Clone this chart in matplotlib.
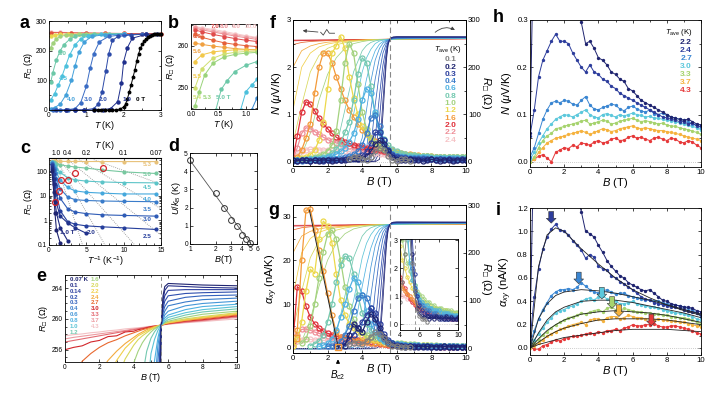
import matplotlib
matplotlib.use("Agg")
import matplotlib.pyplot as plt
import numpy as np

plt.rcParams['font.family'] = ['Liberation Sans', 'DejaVu Sans']
plt.rcParams['mathtext.fontset'] = 'custom'
plt.rcParams['mathtext.rm'] = 'Liberation Sans'
plt.rcParams['mathtext.it'] = 'Liberation Sans:italic'
plt.rcParams['mathtext.bf'] = 'Liberation Sans:bold'
plt.rcParams['mathtext.fallback'] = 'stixsans'

nan = np.nan

# ---------- panel a: R(T) at fixed fields ----------
A0_T = [1.2, 1.3, 1.4, 1.5, 1.6, 1.7, 1.8, 1.9, 2.0, 2.05, 2.1, 2.15, 2.2, 2.25, 2.3, 2.35,
        2.4, 2.45, 2.5, 2.55, 2.6, 2.65, 2.7, 2.75, 2.8, 2.85, 2.9, 2.95, 3.0]
A0_R = [0, 0, 0, 0, 0, 0, 1, 3, 10, 20, 38, 60, 85, 110, 135, 165,
        190, 208, 222, 232, 240, 246, 250, 253, 255, 256, 256, 256, 256]
A_LABELS = ['10.0', '6.0', '5.5', '5.3', '5.0', '4.5', '4.0', '3.0', '2.0', '1.0']
A_COLORS = ['#f4bcc0', '#e2503e', '#e9d64e', '#a2d27e', '#6cc8a8', '#4cc0dc', '#43a0da',
            '#3a6cc4', '#2c4aa8', '#1f2f8c']
A_T = [
    [0.05, 0.3, 0.6, 1.0, 1.5, 2.0, 2.5, 3.0],
    [0.05, 0.3, 0.6, 1.0, 1.5, 2.0, 2.5, 3.0],
    [0.05, 0.15, 0.3, 0.5, 0.8, 1.2, 2.0],
    [0.05, 0.1, 0.2, 0.3, 0.45, 0.6, 0.8, 1.0, 1.5, 2.0],
    [0.05, 0.1, 0.2, 0.3, 0.4, 0.55, 0.7, 0.9, 1.2, 1.6, 2.0],
    [0.05, 0.15, 0.25, 0.35, 0.45, 0.55, 0.7, 0.85, 1.05, 1.4, 2.0],
    [0.05, 0.15, 0.3, 0.45, 0.6, 0.7, 0.8, 0.95, 1.15, 1.5, 2.0],
    [0.1, 0.3, 0.5, 0.7, 0.85, 1.0, 1.1, 1.2, 1.35, 1.6, 2.0, 2.5],
    [0.2, 0.45, 0.7, 0.95, 1.2, 1.32, 1.42, 1.52, 1.6, 1.7, 1.85, 2.2, 2.6],
    [0.45, 0.7, 0.95, 1.2, 1.45, 1.65, 1.84, 1.94, 2.0, 2.1, 2.23, 2.6, 2.9],
]
A_R = [
    [263, 262, 261, 260, 259, 258, 257.5, 257],
    [261, 260.5, 260, 259.5, 258.5, 258, 257.5, 257],
    [250, 253, 255, 256, 256, 257, 257],
    [210, 225, 240, 248, 252, 254, 255, 256, 256, 257],
    [95, 125, 170, 200, 220, 238, 248, 253, 256, 256, 257],
    [35, 55, 85, 115, 150, 185, 220, 240, 250, 255, 256],
    [5, 8, 20, 50, 100, 150, 195, 230, 248, 254, 256],
    [0, 0, 1, 5, 25, 80, 140, 190, 230, 248, 254, 256],
    [0, 0, 0, 0, 5, 20, 60, 130, 190, 235, 248, 253, 256],
    [0, 0, 0, 0, 1, 5, 28, 90, 163, 210, 242, 255, 256],
]
A_TXT = [('5.0', 0.36, 191, '#6cc8a8'), ('4.5', 0.38, 107, '#4cc0dc'), ('4.0', 0.6, 36, '#43a0da'),
         ('3.0', 1.05, 36, '#3a6cc4'), ('2.0', 1.45, 36, '#2c4aa8'), ('1.0', 2.08, 36, '#1f2f8c'),
         ('0 T', 2.45, 36, 'k')]

# ---------- panel b: zoom of R(T) near 260 Ohm ----------
B_COLORS = ['#f6c9cb', '#f2b0b4', '#ec8f95', '#e04b4b', '#e5603a', '#f0a040', '#f2c84a',
            '#cfe070', '#9ad37a', '#6cc8a8', '#4cc0dc', '#3a8ad0']
B_T = [
    [0.07, 0.2, 0.4, 0.6, 0.8, 1.0, 1.2],
    [0.07, 0.2, 0.4, 0.6, 0.8, 1.0, 1.2],
    [0.07, 0.2, 0.4, 0.6, 0.8, 1.0, 1.2],
    [0.07, 0.2, 0.4, 0.6, 0.8, 1.0, 1.2],
    [0.07, 0.2, 0.4, 0.6, 0.8, 1.0, 1.2],
    [0.07, 0.2, 0.4, 0.6, 0.8, 1.0, 1.2],
    [0.07, 0.2, 0.4, 0.6, 0.8, 1.0, 1.2],
    [0.07, 0.2, 0.4, 0.6, 0.8, 1.0, 1.2],
    [0.07, 0.15, 0.25, 0.4, 0.6, 0.8, 1.0, 1.2],
    [0.45, 0.55, 0.65, 0.8, 1.0, 1.2],
    [0.9, 1.0, 1.1, 1.2],
    [1.1, 1.2],
]
B_R = [
    [264.6, 264.3, 263.9, 263.4, 262.9, 262.4, 262.0],
    [264.4, 264.1, 263.6, 263.1, 262.6, 262.2, 261.8],
    [264.2, 263.8, 263.3, 262.8, 262.3, 261.9, 261.5],
    [263.8, 263.3, 262.7, 262.2, 261.7, 261.3, 261.0],
    [262.7, 262.0, 261.3, 260.7, 260.3, 260.0, 259.8],
    [260.6, 260.3, 259.9, 259.6, 259.3, 259.1, 259.0],
    [256.2, 257.8, 258.5, 258.8, 259.0, 259.0, 259.0],
    [249.8, 254.5, 257.0, 258.0, 258.4, 258.6, 258.7],
    [245.5, 249.0, 253.0, 255.8, 257.3, 257.9, 258.2, 258.4],
    [244.5, 249.5, 251.5, 253.8, 255.3, 256.2],
    [244.5, 249.0, 250.5, 251.9],
    [244.5, 247.5],
]
B_TXT = [('7.0', 0.35, 264.5, '#e04b4b'), ('8.0', 0.53, 264.5, '#ec8f95'), ('9.0', 0.74, 264.5, '#f2b0b4'),
         ('10.0', 0.98, 264.5, '#f6c9cb'), ('6.0', 0.04, 262.3, '#e5603a'), ('5.6', 0.04, 258.7, '#f0a040'),
         ('5.5', 0.04, 252.6, '#f2c84a'), ('5.4', 0.04, 247.5, '#cfe070'), ('5.3', 0.22, 247.5, '#9ad37a'),
         ('5.0 T', 0.45, 247.5, '#6cc8a8')]

# ---------- panel c: Arrhenius plot ----------
C_X = [0.4, 0.63, 0.8, 1.0, 1.5, 2.5, 3.5, 5.0, 7.1, 10.0, 14.3]
C_LABELS = ['5.3', '5.0', '4.5', '4.0', '3.5', '3.0', '2.5', '2.0', '1.5', '1.0']
C_COLORS = ['#e8c27a', '#78c8a0', '#5cc4c8', '#45a8dc', '#3a7cca', '#2f5cb6', '#263f9c',
            '#22338c', '#1f2a80', '#1f2470']
C_R = [
    [260, 258, 257, 256, 255, 254, 253, 252, 251, 250, 250],
    [250, 230, 215, 200, 185, 165, 150, 135, 115, 95, 82],
    [240, 200, 160, 130, 90, 55, 45, 40, 37, 35, 34],
    [230, 170, 120, 85, 45, 22, 16, 14, 13, 12, 12],
    [220, 140, 85, 50, 20, 9, 7, 6.5, 6.2, 6.0, 5.8],
    [200, 110, 55, 25, 8, 3, 2.2, 1.9, 1.7, 1.6, 1.5],
    [180, 80, 30, 12, 2.5, 0.9, 0.7, 0.6, 0.55, 0.5, 0.43],
    [150, 50, 15, 5, 1.5, 0.8, 0.5, 0.3],
    [120, 30, 6, 2, 0.5, 0.15],
    [100, 15, 2, 0.4, 0.12],
]
C_RED_X = [0.75, 1.3, 1.55, 2.55, 3.45, 7.25]
C_RED_R = [5.5, 16, 45, 45, 85, 135]
C_FITS = [((0.8, 300), (4.5, 0.1)), ((1.0, 300), (7.5, 0.1)), ((1.3, 300), (11.5, 0.1)),
          ((2.5, 300), (15, 0.25)), ((4.0, 300), (15, 3.0)), ((6.0, 300), (15, 30))]
C_TXT = [('5.3', 13.2, 186), ('5.0', 13.2, 73), ('4.5', 13.2, 23), ('4.0', 13.2, 7.2),
         ('3.5', 13.2, 2.9), ('3.0', 13.2, 1.08), ('2.5', 13.2, 0.23)]
C_TOP_T = ['1.0', '0.4', '0.2', '0.1', '0.07']
C_TOP_X = [1.0, 2.5, 5.0, 10.0, 14.29]

# ---------- panel d: activation energy ----------
D_B = [1, 2, 2.5, 3, 3.5, 4, 4.5, 5]
D_U = [4.6, 2.8, 2.0, 1.3, 1.0, 0.5, 0.25, 0.05]
D_LINE_B = [1, 5.1]
D_LINE_U = [4.6, 0.0]

# ---------- panel e and thin lines of f, g: R(B) at fixed T ----------
R_T = ['0.07 K', '0.1', '0.14', '0.2', '0.3', '0.4', '0.6', '0.8', '1.0', '1.2',
       '1.6', '2.0', '2.2', '2.4', '2.7', '3.0', '3.3', '3.7', '4.3']
R_COLORS = ['#1f2470', '#27308a', '#2c3f9e', '#2f4fae', '#3463bd', '#3a7cca', '#4497d8', '#4fb2e2',
            '#5cc4d6', '#74c9b0', '#a3d27e', '#d8d85a', '#f1cf4a', '#f3aa3e', '#e8682f', '#d2262b',
            '#e36a72', '#ec9aa0', '#f3c1c4']
R_B = [0, 0.5, 1, 1.5, 2, 2.5, 3, 3.5, 4, 4.25, 4.5, 4.75, 5, 5.2, 5.4, 5.5, 5.6, 5.7, 5.8, 6, 7, 8, 10]
R_VALS = [
    [0, 0, 0, 0, 0, 0, 0, 0, 0, 0, 0, 0, 5, 100, 215, 248, 259.2, 263.0, 264.2, 264.6, 264.5, 264.4, 264.3],
    [0, 0, 0, 0, 0, 0, 0, 0, 0, 0, 0, 2, 20, 130, 225, 250, 259.2, 262.5, 263.7, 264.3, 264.2, 264.1, 264.0],
    [0, 0, 0, 0, 0, 0, 0, 0, 0, 0, 0, 10, 90, 175, 235, 252, 259.2, 261.9, 263.0, 263.7, 263.8, 263.8, 263.8],
    [0, 0, 0, 0, 0, 0, 0, 0, 0, 0, 5, 50, 140, 205, 243, 254, 259.2, 261.3, 262.3, 263.0, 263.3, 263.4, 263.5],
    [0, 0, 0, 0, 0, 0, 0, 0, 0, 3, 30, 120, 190, 230, 250, 255.5, 259.2, 260.8, 261.6, 262.3, 262.8, 263.0, 263.1],
    [0, 0, 0, 0, 0, 0, 0, 0, 5, 25, 110, 175, 220, 243, 254.5, 257, 259.2, 260.3, 261.0, 261.7, 262.2, 262.5, 262.7],
    [0, 0, 0, 0, 0, 0, 0, 3, 50, 110, 170, 215, 240, 251, 256.5, 258, 259.2, 259.9, 260.5, 261.0, 261.7, 262.0, 262.3],
    [0, 0, 0, 0, 0, 0, 3, 30, 130, 175, 210, 235, 249, 254.5, 257.5, 258.5, 259.2, 259.7, 260.1, 260.5, 261.2, 261.6, 261.9],
    [0, 0, 0, 0, 0, 5, 30, 100, 190, 220, 238, 250, 255.5, 257.3, 258.5, 258.9, 259.2, 259.5, 259.8, 260.2, 260.8, 261.2, 261.6],
    [0, 0, 0, 0, 5, 30, 110, 190, 235, 246, 252.5, 255.8, 257.5, 258.3, 258.9, 259.1, 259.2, 259.4, 259.6, 259.9, 260.5, 260.9, 261.3],
    [3, 15, 60, 130, 185, 220, 240, 250, 254.3, 255.8, 256.9, 257.7, 258.3, 258.7, 259.0, 259.1, 259.2, 259.35, 259.5, 259.7, 260.2, 260.6, 261.0],
    [40, 120, 190, 225, 240, 247.5, 252, 254.8, 256.6, 257.3, 257.8, 258.2, 258.6, 258.8, 259.05, 259.15, 259.2, 259.3, 259.4, 259.6, 260.0, 260.3, 260.8],
    [110, 200, 230, 243, 249, 252.5, 254.6, 256.2, 257.3, 257.8, 258.1, 258.4, 258.7, 258.9, 259.1, 259.15, 259.2, 259.3, 259.4, 259.5, 259.9, 260.2, 260.7],
    [200, 235, 245, 250, 253, 254.6, 255.8, 256.8, 257.6, 258.0, 258.3, 258.6, 258.8, 259.0, 259.1, 259.15, 259.2, 259.3, 259.35, 259.5, 259.8, 260.1, 260.6],
    [248, 252.5, 254.5, 255.5, 256.3, 256.9, 257.3, 257.8, 258.2, 258.4, 258.6, 258.75, 258.9, 259.0, 259.1, 259.15, 259.2, 259.3, 259.35, 259.4, 259.8, 260.0, 260.5],
    [256.0, 256.3, 256.5, 257.0, 257.2, 257.7, 257.8, 258.3, 258.4, 258.6, 258.7, 258.85, 259.0, 259.05, 259.1, 259.15, 259.2, 259.25, 259.3, 259.4, 259.7, 259.9, 260.4],
    [257.0, 257.2, 257.4, 257.6, 257.8, 258.0, 258.2, 258.4, 258.6, 258.7, 258.8, 258.9, 259.0, 259.05, 259.1, 259.15, 259.2, 259.25, 259.3, 259.35, 259.6, 259.8, 260.3],
    [257.4, 257.6, 257.75, 257.9, 258.05, 258.2, 258.35, 258.5, 258.7, 258.75, 258.85, 258.9, 259.0, 259.05, 259.1, 259.15, 259.2, 259.22, 259.27, 259.35, 259.55, 259.75, 260.2],
    [257.8, 257.95, 258.05, 258.2, 258.3, 258.45, 258.55, 258.7, 258.8, 258.85, 258.9, 259.0, 259.05, 259.1, 259.15, 259.17, 259.2, 259.22, 259.25, 259.3, 259.5, 259.65, 260.0],
]

# ---------- panels f-i: 41 points on a 0.25 T grid ----------
B_GRID = np.linspace(0, 10, 41)

F_T = ['2.4', '2.2', '2.0', '1.6', '1.2', '1.0', '0.8', '0.6', '0.4', '0.3', '0.2', '0.1']
F_COLORS = ['#f6c3c6', '#ef8f98', '#e0303a', '#f39a3a', '#ecd84a', '#a3d27e', '#74c9b0',
            '#4fb2e2', '#3a7cca', '#2c3f9e', '#1f2470', '#808080']
N_24 = [0.05, 0.15, 0.22, 0.25, 0.26, 0.26, 0.25, 0.25, 0.24, 0.24, 0.23, 0.23, 0.22] + \
       [0.22, 0.21, 0.21, 0.2, 0.2, 0.19, 0.18, 0.17, 0.16, 0.15, 0.14, 0.13] + \
       [0.12, 0.12, 0.11, 0.11, 0.1, 0.1, 0.1, 0.09, 0.09, 0.09, 0.08, 0.08, 0.08, 0.08, 0.07, 0.07]
N_22 = [0.05, 0.3, 0.6, 0.72, 0.7, 0.64, 0.58, 0.52, 0.47, 0.43, 0.4, 0.37, 0.35] + \
       [0.33, 0.31, 0.3, 0.28, 0.27, 0.25, 0.24, 0.22, 0.2, 0.19, 0.17, 0.16] + \
       [0.15, 0.14, 0.13, 0.12, 0.11, 0.1, 0.1, 0.09, 0.09, 0.08, 0.08, 0.08, 0.07, 0.07, 0.07, 0.07]
N_20 = [0.08, 0.55, 1.05, 1.27, 1.22, 1.08, 0.93, 0.8, 0.7, 0.6, 0.52, 0.46, 0.42] + \
       [0.39, 0.36, 0.34, 0.32, 0.3, 0.28, 0.26, 0.24, 0.22, 0.2, 0.18, 0.16] + \
       [0.15, 0.14, 0.13, 0.12, 0.11, 0.1, 0.1, 0.09, 0.09, 0.08, 0.08, 0.08, 0.07, 0.07, 0.07, 0.07]
N_16 = [0.05, 0.1, 0.25, 0.5, 0.8, 1.45, 2.0, 2.3, 2.3, 2.1, 1.8, 1.55, 1.3] + \
       [1.1, 0.95, 0.8, 0.68, 0.58, 0.5, 0.43, 0.37, 0.32, 0.28, 0.24, 0.21] + \
       [0.19, 0.17, 0.16, 0.15, 0.14, 0.13, 0.12, 0.12, 0.11, 0.11, 0.1, 0.1, 0.1, 0.1, 0.09, 0.09]
N_12 = [0.04, 0.05, 0.07, 0.1, 0.15, 0.24, 0.45, 0.85, 1.55, 2.3, 2.45, 2.65, 2.4] + \
       [1.8, 1.35, 1.0, 0.75, 0.58, 0.46, 0.38, 0.32, 0.27, 0.23, 0.2, 0.18] + \
       [0.16, 0.15, 0.14, 0.13, 0.13, 0.12, 0.12, 0.11, 0.11, 0.1, 0.1, 0.1, 0.1, 0.09, 0.09, 0.09]
N_10 = [0.03, 0.04, 0.05, 0.06, 0.08, 0.1, 0.13, 0.17, 0.23, 0.35, 0.65, 1.3, 2.1] + \
       [2.5, 2.3, 1.65, 1.05, 0.7, 0.5, 0.4, 0.33, 0.28, 0.24, 0.21, 0.19] + \
       [0.17, 0.16, 0.15, 0.14, 0.13, 0.13, 0.12, 0.12, 0.11, 0.11, 0.11, 0.1, 0.1, 0.1, 0.1, 0.1]
N_08 = [0.03, 0.04, 0.04, 0.05, 0.06, 0.07, 0.08, 0.1, 0.13, 0.18, 0.26, 0.4, 0.62] + \
       [0.85, 1.3, 1.85, 2.2, 2.1, 1.6, 1.0, 0.65, 0.48, 0.35, 0.27, 0.22] + \
       [0.19, 0.17, 0.15, 0.14, 0.13, 0.12, 0.12, 0.11, 0.11, 0.1, 0.1, 0.1, 0.09, 0.09, 0.09, 0.09]
N_06 = [0.03, 0.03, 0.04, 0.04, 0.05, 0.05, 0.06, 0.07, 0.09, 0.12, 0.16, 0.22, 0.3] + \
       [0.42, 0.6, 0.9, 1.3, 1.55, 1.45, 1.05, 0.6, 0.35, 0.22, 0.16, 0.13] + \
       [0.12, 0.11, 0.1, 0.1, 0.09, 0.09, 0.09, 0.08, 0.08, 0.08, 0.07, 0.07, 0.07, 0.07, 0.06, 0.06]
N_04 = [0.02, 0.03, 0.02, 0.03, 0.03, 0.04, 0.03, 0.04, 0.05, 0.05, 0.06, 0.07, 0.09] + \
       [0.12, 0.16, 0.22, 0.35, 0.6, 0.92, 0.98, 0.75, 0.45, 0.25, 0.16, 0.12] + \
       [0.1, 0.09, 0.08, 0.08, 0.07, 0.07, 0.06, 0.06, 0.06, 0.05, 0.06, 0.05, 0.05, 0.05, 0.05, 0.05]
N_03 = [0.03, 0.02, 0.03, 0.03, 0.02, 0.03, 0.03, 0.02, 0.03, 0.04, 0.03, 0.04, 0.05] + \
       [0.06, 0.07, 0.1, 0.14, 0.22, 0.4, 0.62, 0.63, 0.45, 0.25, 0.14, 0.09] + \
       [0.08, 0.07, 0.06, 0.06, 0.05, 0.06, 0.05, 0.05, 0.04, 0.05, 0.04, 0.05, 0.04, 0.04, 0.05, 0.04]
N_02 = [0.03, 0.02, 0.04, 0.03, 0.02, 0.03, 0.02, 0.04, 0.03, 0.02, 0.03, 0.04, 0.03] + \
       [0.05, 0.07, 0.06, 0.08, 0.12, 0.22, 0.38, 0.45, 0.38, 0.22, 0.1, 0.05] + \
       [0.04, 0.03, 0.05, 0.03, 0.04, 0.02, 0.03, 0.05, 0.03, 0.02, 0.04, 0.03, 0.02, 0.04, 0.03, 0.03]
N_01 = [nan] * 13 + [0.05, 0.1, 0.1, 0.06, 0.04, 0.1, 0.22, 0.3, 0.25, 0.12, 0.03, 0.01,
                     0.05, 0.06, 0.02] + [nan] * 13
F_N = [N_24, N_22, N_20, N_16, N_12, N_10, N_08, N_06, N_04, N_03, N_02, N_01]

A_24 = [0.8, 1.5, 1.8, 1.9, 1.9, 1.8, 1.8, 1.7, 1.6, 1.6, 1.5, 1.4, 1.4] + \
       [1.3, 1.2, 1.2, 1.1, 1.0, 1.0, 0.9, 0.9, 0.8, 0.8, 0.7, 0.7] + \
       [0.65, 0.6, 0.6, 0.55, 0.5, 0.5, 0.45, 0.45, 0.4, 0.4, 0.4, 0.35, 0.35, 0.35, 0.3, 0.3]
A_22 = [1.0, 3.0, 4.2, 4.3, 4.0, 3.6, 3.3, 3.0, 2.7, 2.5, 2.3, 2.1, 1.9] + \
       [1.8, 1.6, 1.5, 1.4, 1.3, 1.2, 1.1, 1.0, 0.9, 0.8, 0.75, 0.7] + \
       [0.65, 0.6, 0.55, 0.5, 0.5, 0.45, 0.45, 0.4, 0.4, 0.35, 0.35, 0.35, 0.3, 0.3, 0.3, 0.3]
A_20 = [1.5, 14.0, 13.0, 9.5, 7.0, 5.5, 4.5, 3.8, 3.3, 3.0, 2.7, 2.5, 2.3] + \
       [2.1, 2.0, 1.8, 1.7, 1.5, 1.3, 1.1, 0.9, 0.8, 0.7, 0.6, 0.55] + \
       [0.5, 0.45, 0.4, 0.4, 0.35, 0.35, 0.3, 0.3, 0.3, 0.25, 0.25, 0.25, 0.2, 0.2, 0.2, 0.2]
A_16 = [0.5, 4.0, 20.0, 31.5, 31.8, 27.0, 22.5, 17.5, 12.5, 7.5, 3.5, 2.5, 2.2] + \
       [2.0, 1.8, 1.6, 1.4, 1.3, 1.2, 1.1, 1.0, 0.9, 0.8, 0.7, 0.7] + \
       [0.6, 0.6, 0.5, 0.5, 0.5, 0.5, 0.4, 0.4, 0.4, 0.4, 0.4, 0.35, 0.35, 0.35, 0.3, 0.3]
A_12 = [0.5, 2.0, 6.0, 13.0, 18.0, 17.0, 25.0, 29.0, 28.0, 24.0, 17.0, 11.0, 7.5] + \
       [5.5, 4.5, 3.5, 2.8, 2.3, 2.0, 1.7, 1.5, 1.3, 1.1, 1.0, 0.9] + \
       [0.8, 0.8, 0.7, 0.7, 0.6, 0.6, 0.6, 0.5, 0.5, 0.5, 0.5, 0.45, 0.45, 0.4, 0.4, 0.4]
A_10 = [nan, nan, 1.0, 2.0, 5.0, 10.0, 16.0, 22.0, 26.0, 27.0, 25.0, 20.0, 14.0] + \
       [9.5, 6.5, 4.5, 3.5, 3.0, 2.5, 2.2, 1.9, 1.6, 1.4, 1.2, 1.1] + \
       [1.0, 0.9, 0.8, 0.8, 0.7, 0.7, 0.6, 0.6, 0.6, 0.5, 0.5, 0.5, 0.5, 0.45, 0.45, 0.45]
A_08 = [nan] * 4 + [0.5, 0.9, 1.5, 3.0, 6.0, 10.0, 15.0, 19.0, 21.0] + \
       [20.5, 17.0, 12.0, 8.0, 5.5, 4.0, 3.0, 2.3, 1.8, 1.4, 1.1, 0.9] + \
       [0.8, 0.7, 0.7, 0.6, 0.6, 0.5, 0.5, 0.5, 0.45, 0.45, 0.4, 0.4, 0.4, 0.35, 0.35, 0.35]
A_06 = [nan] * 6 + [0.3, 0.6, 1.0, 2.0, 4.0, 7.0, 10.0] + \
       [13.5, 16.0, 15.0, 12.0, 8.5, 5.5, 3.5, 2.2, 1.6, 1.3, 1.1, 0.9] + \
       [0.8, 0.7, 0.7, 0.6, 0.6, 0.5, 0.5, 0.5, 0.4, 0.4, 0.4, 0.4, 0.35, 0.35, 0.35, 0.3]
A_04 = [nan] * 8 + [0.3, 0.5, 0.8, 1.5, 3.0] + \
       [5.0, 8.5, 11.5, 12.0, 11.5, 9.0, 6.0, 3.5, 2.0, 1.3, 1.0, 0.8] + \
       [0.7, 0.6, 0.5, 0.5, 0.4, 0.4, 0.4, 0.3, 0.3, 0.3, 0.3, 0.3, 0.3, 0.25, 0.25, 0.25]
A_03 = [nan] * 10 + [0.3, 0.6, 1.0] + \
       [1.8, 3.0, 4.5, 6.0, 7.5, 9.0, 8.0, 5.5, 3.2, 1.8, 1.0, 0.7] + \
       [0.5, 0.4, 0.4, 0.3, 0.3, 0.3, 0.25, 0.25, 0.2, 0.2, 0.2, 0.2, 0.2, 0.2, 0.2, 0.2]
A_02 = [nan] * 12 + [0.5, 3.0, 5.5, 4.5, 3.5, 6.0, 7.8, 6.5, 4.5, 2.5, 1.2, 0.6, 0.4] + \
       [0.3, 0.25, 0.3, 0.2, 0.25, 0.2, 0.3, 0.2, 0.25, 0.2, 0.3, 0.2, 0.25, 0.2, 0.2, 0.25]
A_01 = [nan] * 13 + [0.8, 1.2, 1.0, 0.8, 1.5, 2.5, 3.5, 3.2, 2.2, 1.2, 0.5, 0.3,
                     0.2, 0.2, 0.1] + [nan] * 13
G_A = [A_24, A_22, A_20, A_16, A_12, A_10, A_08, A_06, A_04, A_03, A_02, A_01]
G_FIT_B = [0.95, 2.62]
G_FIT_A = [31.5, 0.0]
G_SQ_B = [0.2, 2.6]
G_SQ_A = [2.2, 0.2]

HI_T = ['2.2', '2.4', '2.7', '3.0', '3.3', '3.7', '4.3']
HI_COLORS = ['#1f2470', '#2d3d9c', '#3a86d2', '#5cc8dc', '#a6d36e', '#f5b23e', '#e6393a']
H_22 = [0.06, 0.55, 0.7, 0.68, 0.65, 0.6, 0.56, 0.52, 0.47, 0.43, 0.39, 0.34, 0.295] + \
       [0.25, 0.255, 0.24, 0.22, 0.215, 0.205, 0.19, 0.185, 0.175, 0.17, 0.155, 0.15] + \
       [0.14, 0.13, 0.125, 0.12, 0.115, 0.11, 0.105, 0.1, 0.095, 0.092, 0.09, 0.088, 0.09, 0.085, 0.08, 0.078]
H_24 = [0.055, 0.11, 0.18, 0.215, 0.235, 0.255, 0.27, 0.255, 0.255, 0.25, 0.23, 0.215, 0.2] + \
       [0.19, 0.205, 0.19, 0.185, 0.175, 0.17, 0.16, 0.155, 0.145, 0.14, 0.135, 0.13] + \
       [0.125, 0.12, 0.115, 0.11, 0.105, 0.1, 0.095, 0.093, 0.09, 0.088, 0.085, 0.085, 0.08, 0.082, 0.075, 0.075]
H_27 = [0.01, 0.03, 0.06, 0.09, 0.11, 0.125, 0.128, 0.125, 0.13, 0.128, 0.122, 0.12, 0.13] + \
       [0.138, 0.12, 0.112, 0.11, 0.115, 0.118, 0.122, 0.12, 0.112, 0.108, 0.115, 0.118] + \
       [0.112, 0.108, 0.105, 0.11, 0.102, 0.1, 0.103, 0.098, 0.095, 0.092, 0.09, 0.088, 0.085, 0.08, 0.078, 0.072]
H_30 = [0.005, 0.02, 0.04, 0.055, 0.07, 0.08, 0.09, 0.095, 0.1, 0.098, 0.095, 0.1, 0.105] + \
       [0.11, 0.1, 0.095, 0.093, 0.1, 0.102, 0.098, 0.095, 0.1, 0.097, 0.1, 0.103] + \
       [0.1, 0.098, 0.095, 0.096, 0.093, 0.092, 0.09, 0.088, 0.087, 0.085, 0.082, 0.08, 0.077, 0.075, 0.072, 0.068]
H_33 = [0.0, 0.01, 0.03, 0.045, 0.055, 0.06, 0.07, 0.072, 0.075, 0.078, 0.08, 0.083, 0.086] + \
       [0.088, 0.08, 0.082, 0.085, 0.088, 0.086, 0.08, 0.082, 0.086, 0.088, 0.09, 0.092] + \
       [0.088, 0.085, 0.087, 0.085, 0.083, 0.08, 0.082, 0.078, 0.076, 0.075, 0.072, 0.07, 0.068, 0.065, 0.062, 0.058]
H_37 = [0.0, 0.005, 0.02, 0.03, 0.04, 0.045, 0.05, 0.052, 0.055, 0.058, 0.06, 0.063, 0.066] + \
       [0.062, 0.058, 0.062, 0.066, 0.07, 0.068, 0.064, 0.066, 0.07, 0.072, 0.074, 0.076] + \
       [0.072, 0.07, 0.072, 0.07, 0.068, 0.066, 0.066, 0.064, 0.062, 0.06, 0.058, 0.055, 0.052, 0.05, 0.048, 0.045]
H_43 = [0.002, 0.005, 0.012, 0.015, 0.008, 0.0, 0.02, 0.025, 0.03, 0.028, 0.035, 0.032, 0.04] + \
       [0.038, 0.035, 0.042, 0.045, 0.04, 0.042, 0.048, 0.05, 0.045, 0.046, 0.052, 0.055] + \
       [0.05, 0.052, 0.048, 0.045, 0.05, 0.052, 0.048, 0.045, 0.05, 0.048, 0.042, 0.04, 0.045, 0.042, 0.035, 0.03]
H_N = [H_22, H_24, H_27, H_30, H_33, H_37, H_43]

I_22 = [0.1, 2.0, 2.2, 2.1, 2.0, 1.9, 1.8, 1.7, 1.6, 1.5, 1.4, 1.3, 1.17] + \
       [1.0, 0.98, 0.95, 0.88, 0.82, 0.75, 0.7, 0.66, 0.62, 0.6, 0.56, 0.54] + \
       [0.52, 0.5, 0.49, 0.5, 0.47, 0.44, 0.41, 0.4, 0.38, 0.37, 0.36, 0.35, 0.35, 0.34, 0.32, 0.31]
I_24 = [0.07, 0.44, 0.68, 0.85, 0.95, 1.02, 1.06, 1.01, 1.0, 0.97, 0.92, 0.88, 0.84] + \
       [0.77, 0.8, 0.78, 0.7, 0.68, 0.67, 0.62, 0.6, 0.57, 0.55, 0.52, 0.5] + \
       [0.47, 0.44, 0.42, 0.41, 0.39, 0.38, 0.37, 0.36, 0.35, 0.35, 0.34, 0.33, 0.32, 0.31, 0.3, 0.28]
I_27 = [0.04, 0.15, 0.25, 0.33, 0.39, 0.45, 0.48, 0.5, 0.5, 0.51, 0.5, 0.52, 0.56] + \
       [0.53, 0.5, 0.48, 0.47, 0.49, 0.5, 0.48, 0.46, 0.47, 0.47, 0.45, 0.44] + \
       [0.43, 0.42, 0.41, 0.41, 0.4, 0.4, 0.39, 0.38, 0.37, 0.37, 0.36, 0.35, 0.34, 0.33, 0.3, 0.27]
I_30 = [0.02, 0.07, 0.12, 0.17, 0.22, 0.26, 0.3, 0.32, 0.33, 0.35, 0.36, 0.38, 0.4] + \
       [0.42, 0.43, 0.41, 0.44, 0.45, 0.42, 0.4, 0.4, 0.38, 0.38, 0.39, 0.4] + \
       [0.38, 0.37, 0.36, 0.35, 0.35, 0.34, 0.33, 0.32, 0.31, 0.3, 0.3, 0.29, 0.28, 0.27, 0.25, 0.24]
I_33 = [0.01, 0.04, 0.07, 0.11, 0.14, 0.17, 0.2, 0.22, 0.24, 0.26, 0.27, 0.28, 0.3] + \
       [0.29, 0.31, 0.32, 0.33, 0.31, 0.34, 0.35, 0.33, 0.32, 0.34, 0.33, 0.32] + \
       [0.31, 0.31, 0.3, 0.3, 0.29, 0.29, 0.28, 0.28, 0.27, 0.27, 0.26, 0.26, 0.25, 0.24, 0.22, 0.21]
I_37 = [0.0, 0.02, 0.04, 0.07, 0.1, 0.12, 0.14, 0.16, 0.17, 0.19, 0.2, 0.21, 0.22] + \
       [0.2, 0.24, 0.25, 0.25, 0.23, 0.26, 0.27, 0.27, 0.25, 0.26, 0.28, 0.27] + \
       [0.26, 0.26, 0.25, 0.25, 0.24, 0.25, 0.24, 0.24, 0.23, 0.23, 0.22, 0.22, 0.21, 0.2, 0.19, 0.18]
I_43 = [0.01, -0.01, -0.01, 0.02, 0.03, 0.05, 0.07, 0.06, 0.08, 0.09, 0.1, 0.1, 0.11] + \
       [0.12, 0.13, 0.12, 0.14, 0.13, 0.15, 0.15, 0.16, 0.15, 0.17, 0.18, 0.2] + \
       [0.19, 0.19, 0.2, 0.2, 0.21, 0.19, 0.18, 0.18, 0.19, 0.19, 0.18, 0.17, 0.16, 0.15, 0.13, 0.12]
I_A = [I_22, I_24, I_27, I_30, I_33, I_37, I_43]

I_FIT_B = [0, 0.5, 1, 1.5, 2, 3, 4, 5, 6, 7, 8, 9, 10]
I_FITS = [
    [0.0, 0.7, 0.97, 1.03, 1.0, 0.85, 0.72, 0.6, 0.5, 0.43, 0.37, 0.32, 0.28],
    [0.0, 0.25, 0.38, 0.45, 0.48, 0.5, 0.49, 0.47, 0.44, 0.41, 0.37, 0.33, 0.29],
    [0.0, 0.13, 0.24, 0.31, 0.35, 0.4, 0.41, 0.41, 0.39, 0.36, 0.33, 0.3, 0.26],
    [0.0, 0.08, 0.15, 0.2, 0.24, 0.29, 0.31, 0.32, 0.31, 0.3, 0.28, 0.25, 0.22],
    [0.0, 0.05, 0.1, 0.14, 0.17, 0.21, 0.24, 0.25, 0.25, 0.25, 0.24, 0.22, 0.2],
    [0.0, 0.03, 0.05, 0.07, 0.09, 0.11, 0.13, 0.15, 0.16, 0.16, 0.16, 0.15, 0.14],
]
I_ARROW_B = [1.24, 2.85, 4.2, 4.8, 5.2, 7.1]
I_ARROW_A = [1.07, 0.55, 0.42, 0.34, 0.27, 0.19]

B_C = 5.6
RLAB = '$R_{\u25a1}$ ($\\Omega$)'

W, H = 720, 398
fig = plt.figure(figsize=(7.2, 3.98), dpi=100)


def box(l, t, r, b):
    return fig.add_axes([l / W, 1 - b / H, (r - l) / W, (b - t) / H])


def frame(ax, fs=4.8, right=True, top=True):
    ax.tick_params(which='both', direction='in', top=top, right=right,
                   labelsize=fs, width=0.5, pad=1.5)
    ax.tick_params(which='major', length=2.5)
    ax.tick_params(which='minor', length=1.3)
    for s in ax.spines.values():
        s.set_linewidth(0.6)


def letter(x, y, s):
    fig.text(x / W, 1 - y / H, s, fontsize=13, fontweight='bold', ha='left', va='top')


# ---- a ----
ax = box(49, 21, 161, 110)
for t, r, c in zip(A_T, A_R, A_COLORS):
    ax.plot(t, r, '-o', color=c, ms=3.2, lw=0.7, mew=0, clip_on=False)
ax.plot(A0_T, A0_R, '-o', color='k', ms=2.8, lw=0.7, mew=0, clip_on=False)
for s, x, y, c in A_TXT:
    ax.text(x, y, s, color=c, fontsize=4.6, fontweight='bold', ha='center', va='center')
ax.set_xlim(0, 3)
ax.set_ylim(0, 300)
ax.set_xticks([0, 1, 2, 3])
ax.set_yticks([0, 100, 200, 300])
ax.xaxis.set_minor_locator(plt.MultipleLocator(0.5))
ax.yaxis.set_minor_locator(plt.MultipleLocator(50))
frame(ax)
ax.set_xlabel(r'$T$ (K)', fontsize=6.5, labelpad=0)
ax.set_ylabel(RLAB, fontsize=6.5, labelpad=1)
letter(20, 15, 'a')

# ---- b ----
ax = box(191, 24, 257, 109)
for t, r, c in zip(B_T, B_R, B_COLORS):
    ax.plot(t, r, '-o', color=c, ms=3.2, lw=0.7, mew=0)
for s, x, y, c in B_TXT:
    ax.text(x, y, s, color=c, fontsize=4.6, fontweight='bold', ha='left', va='center')
ax.set_xlim(0, 1.2)
ax.set_ylim(244.8, 265.2)
ax.set_xticks([0, 0.5, 1.0])
ax.set_xticklabels(['0.0', '0.5', '1.0'])
ax.set_yticks([250, 260])
ax.yaxis.set_minor_locator(plt.MultipleLocator(5))
ax.xaxis.set_minor_locator(plt.MultipleLocator(0.25))
frame(ax)
ax.set_xlabel(r'$T$ (K)', fontsize=6.5, labelpad=0)
ax.set_ylabel(RLAB, fontsize=6.5, labelpad=1)
letter(168, 15, 'b')

# ---- c ----
ax = box(49, 158, 161, 245)
for (p0, p1) in C_FITS:
    ax.plot([p0[0], p1[0]], [p0[1], p1[1]], ls=(0, (1, 1.5)), color='#8a8a8a', lw=0.6)
for r, c in zip(C_R, C_COLORS):
    ax.plot(C_X[:len(r)], r, '-o', color=c, ms=3.0, lw=0.8, mew=0)
ax.plot(C_RED_X, C_RED_R, 'o', ms=4.2, mfc='none', mec='#d2262b', mew=0.9)
for (s, x, y), c in zip(C_TXT, C_COLORS):
    ax.text(x, y, s, color=c, fontsize=4.6, fontweight='bold', ha='center', va='center')
ax.text(2.4, 0.32, '1.0 T', color='#1f2a80', fontsize=4.6, fontweight='bold', ha='center', va='center')
ax.text(5.6, 0.32, '2.0', color='#22338c', fontsize=4.6, fontweight='bold', ha='center', va='center')
ax.set_yscale('log')
ax.set_xlim(0, 15)
ax.set_ylim(0.1, 350)
ax.set_xticks([0, 5, 10, 15])
ax.set_yticks([0.1, 1, 10, 100])
ax.set_yticklabels(['0.1', '1', '10', '100'])
ax.xaxis.set_minor_locator(plt.MultipleLocator(1))
frame(ax, top=False)
sec = ax.secondary_xaxis('top')
sec.set_xticks(C_TOP_X)
sec.set_xticklabels(C_TOP_T)
sec.tick_params(direction='in', labelsize=4.8, width=0.5, length=2.5, pad=1)
sec.set_xlabel(r'$T$ (K)', fontsize=6.5, labelpad=1)
ax.set_xlabel(r'$T^{-1}$ (K$^{-1}$)', fontsize=6.5, labelpad=0)
ax.set_ylabel(RLAB, fontsize=6.5, labelpad=1)
letter(20, 140, 'c')

# ---- d ----
ax = box(190, 153, 257, 244)
ax.plot(D_LINE_B, D_LINE_U, color='#555555', lw=0.6)
ax.plot(D_B, D_U, 'o', ms=4.2, mfc='none', mec='#333333', mew=0.7, clip_on=False)
ax.set_xscale('log')
ax.set_xlim(1, 6)
ax.set_ylim(0, 5)
ax.set_xticks([1, 2, 3, 4, 5, 6])
ax.set_xticklabels(['1', '2', '3', '4', '5', '6'])
ax.xaxis.set_minor_locator(plt.NullLocator())
ax.set_yticks([0, 1, 2, 3, 4, 5])
frame(ax)
ax.set_xlabel(r'$B$(T)', fontsize=6.5, labelpad=0)
ax.set_ylabel(r'$U/k_{\rm B}$ (K)', fontsize=6.5, labelpad=1)
letter(168, 138, 'd')

# ---- e ----
ax = box(65, 275, 237, 362)
for r, c in zip(R_VALS[::-1], R_COLORS[::-1]):
    ax.plot(R_B, r, color=c, lw=0.8)
ax.axvline(B_C, color='#888888', ls=(0, (4, 3)), lw=0.7)
for k, (s, c) in enumerate(zip(R_T, R_COLORS)):
    col, row = divmod(k, 10)
    ax.text(0.3 + 1.2 * col, 265.15 - 0.77 * row, s, color=c, fontsize=4.4,
            fontweight='bold', ha='left', va='center')
ax.set_xlim(0, 10)
ax.set_ylim(254.4, 265.7)
ax.set_xticks([0, 2, 4, 6, 8, 10])
ax.set_yticks([256, 260, 264])
ax.xaxis.set_minor_locator(plt.MultipleLocator(1))
ax.yaxis.set_minor_locator(plt.MultipleLocator(1))
frame(ax)
ax.set_xlabel(r'$B$ (T)', fontsize=6.5, labelpad=0)
ax.set_ylabel(RLAB, fontsize=6.5, labelpad=1)
letter(36, 268, 'e')


def rb_twin(ax):
    axr = ax.twinx()
    for r, c in zip(R_VALS[::-1], R_COLORS[::-1]):
        axr.plot(R_B, r, color=c, lw=0.55)
    axr.set_ylim(-9, 300)
    axr.set_yticks([0, 100, 200, 300])
    axr.yaxis.set_minor_locator(plt.MultipleLocator(50))
    axr.tick_params(which='both', direction='in', labelsize=5.6, width=0.5, pad=1.5)
    axr.tick_params(which='major', length=2.5)
    axr.tick_params(which='minor', length=1.3)
    axr.set_ylabel(RLAB, fontsize=8, rotation=270, labelpad=9)
    for s in axr.spines.values():
        s.set_linewidth(0.6)
    ax.set_zorder(axr.get_zorder() + 1)
    ax.patch.set_visible(False)
    return axr


# ---- f ----
ax = box(293, 20, 466, 166)
rb_twin(ax)
ax.axhline(0, color='#bbbbbb', ls=(0, (1, 1.5)), lw=0.6)
ax.axvline(B_C, color='#888888', ls=(0, (5, 3)), lw=0.8)
for n, c in zip(F_N, F_COLORS):
    ax.plot(B_GRID, n, '-o', color=c, ms=3.6, mfc='none', mew=0.9, lw=0.9)
ax.annotate('', xy=(0.4, 2.78), xytext=(1.6, 2.74),
            arrowprops=dict(arrowstyle='-|>', color='#444444', lw=0.6, mutation_scale=5))
ax.plot([1.6, 1.75, 1.95, 2.1, 2.4], [2.74, 2.68, 2.8, 2.72, 2.72], color='#444444', lw=0.6)
ax.annotate('', xy=(9.5, 2.76), xytext=(8.1, 2.7),
            arrowprops=dict(arrowstyle='-|>', color='#444444', lw=0.6, mutation_scale=5,
                            connectionstyle='arc3,rad=-0.4'))
ax.text(8.95, 2.37, r'$T_{\rm ave}$ (K)', fontsize=5.6, ha='center', va='center')
for k, (s, c) in enumerate(zip(F_T[::-1], F_COLORS[::-1])):
    ax.text(9.46, 2.16 - 0.155 * k, s, color=c, fontsize=6, fontweight='bold', ha='right', va='center')
ax.set_xlim(0, 10)
ax.set_ylim(-0.09, 3.0)
ax.set_xticks([0, 2, 4, 6, 8, 10])
ax.set_yticks([0, 1, 2, 3])
ax.xaxis.set_minor_locator(plt.MultipleLocator(1))
ax.yaxis.set_minor_locator(plt.MultipleLocator(0.5))
frame(ax, fs=5.6, right=False)
ax.set_xlabel(r'$B$ (T)', fontsize=8, labelpad=0)
ax.set_ylabel(r'$N$ ($\mu$V/K)', fontsize=8, labelpad=2)
letter(270, 15, 'f')

# ---- g ----
ax = box(293, 205, 466, 353)
rb_twin(ax)
ax.axhline(0, color='#bbbbbb', ls=(0, (1, 1.5)), lw=0.6)
ax.axvline(B_C, color='#888888', ls=(0, (5, 3)), lw=0.8)
for a, c in zip(G_A, F_COLORS):
    ax.plot(B_GRID, a, '-o', color=c, ms=3.6, mfc='none', mew=0.9, lw=0.9)
ax.plot(G_FIT_B, G_FIT_A, color='#222222', lw=0.7)
ax.plot(G_SQ_B, G_SQ_A, 's', ms=4.2, mfc='none', mec='#f39a3a', mew=1.0, ls='none')
ax.annotate('', xy=(2.6, -2.0), xytext=(2.6, -4.0), annotation_clip=False,
            arrowprops=dict(arrowstyle='-|>', color='k', lw=0.8, mutation_scale=5))
ax.text(2.6, -6.3, r'$B_{c2}$', fontsize=7, ha='center', va='center')
ax.set_xlim(0, 10)
ax.set_ylim(-1.2, 32.7)
ax.set_xticks([0, 2, 4, 6, 8, 10])
ax.set_yticks([0, 10, 20, 30])
ax.xaxis.set_minor_locator(plt.MultipleLocator(1))
ax.yaxis.set_minor_locator(plt.MultipleLocator(5))
frame(ax, fs=5.6, right=False)
ax.set_xlabel(r'$B$ (T)', fontsize=8, labelpad=0)
ax.set_ylabel(r'$\alpha_{xy}$ (nA/K)', fontsize=8, labelpad=2)
letter(268, 202, 'g')

# inset of g
axi = box(400, 239, 458, 330)
axi.set_zorder(10)
axi.axhline(0, color='#bbbbbb', ls=(0, (1, 1.5)), lw=0.5)
axi.axvline(B_C, color='#888888', ls=(0, (4, 3)), lw=0.6)
for a, c in zip(G_A, F_COLORS):
    axi.plot(B_GRID, a, '-o', color=c, ms=2.4, mfc='none', mew=0.7, lw=0.6)
axi.set_xlim(4, 10)
axi.set_ylim(-0.2, 3.05)
axi.set_xticks([4, 6, 8, 10])
axi.set_yticks([0, 1, 2, 3])
frame(axi, fs=5)

# ---- h ----
ax = box(530, 20, 701, 167)
ax.axhline(0, color='#bbbbbb', ls=(0, (1, 1.5)), lw=0.6)
for n, c in zip(H_N[::-1], HI_COLORS[::-1]):
    ax.plot(B_GRID, n, '-o', color=c, ms=2.4, mew=0, lw=0.7)
ax.text(8.7, 0.273, r'$T_{\rm ave}$ (K)', fontsize=5.6, ha='center', va='center')
for k, (s, c) in enumerate(zip(HI_T, HI_COLORS)):
    ax.text(9.47, 0.252 - 0.0168 * k, s, color=c, fontsize=6, fontweight='bold', ha='right', va='center')
ax.set_xlim(0, 10)
ax.set_ylim(-0.011, 0.3)
ax.set_xticks([0, 2, 4, 6, 8, 10])
ax.set_yticks([0.0, 0.1, 0.2, 0.3])
ax.set_yticklabels(['0.0', '0.1', '0.2', '0.3'])
ax.xaxis.set_minor_locator(plt.MultipleLocator(1))
ax.yaxis.set_minor_locator(plt.MultipleLocator(0.05))
frame(ax, fs=5.6)
ax.set_xlabel(r'$B$ (T)', fontsize=8, labelpad=0)
ax.set_ylabel(r'$N$ ($\mu$V/K)', fontsize=8, labelpad=2)
letter(493, 9, 'h')

# ---- i ----
ax = box(530, 208, 701, 355)
ax.axhline(0, color='#bbbbbb', ls=(0, (1, 1.5)), lw=0.6)
for a, c in zip(I_A[::-1], HI_COLORS[::-1]):
    ax.plot(B_GRID, a, '-o', color=c, ms=2.4, mew=0, lw=0.7)
for f in I_FITS:
    ax.plot(I_FIT_B, f, color='#222222', lw=0.6)
for b, y, c in zip(I_ARROW_B, I_ARROW_A, HI_COLORS[1:]):
    ax.annotate('', xy=(b, y), xytext=(b, y + 0.1),
                arrowprops=dict(arrowstyle='simple,head_width=1.0,head_length=0.5,tail_width=0.5',
                                fc=c, ec='#333333', lw=0.4, mutation_scale=7,
                                shrinkA=0, shrinkB=0))
ax.set_xlim(0, 10)
ax.set_ylim(-0.06, 1.2)
ax.set_xticks([0, 2, 4, 6, 8, 10])
ax.set_yticks([0.0, 0.2, 0.4, 0.6, 0.8, 1.0, 1.2])
ax.set_yticklabels(['0.0', '0.2', '0.4', '0.6', '0.8', '1.0', '1.2'])
ax.xaxis.set_minor_locator(plt.MultipleLocator(1))
ax.yaxis.set_minor_locator(plt.MultipleLocator(0.1))
frame(ax, fs=5.6)
ax.set_xlabel(r'$B$ (T)', fontsize=8, labelpad=0)
ax.set_ylabel(r'$\alpha_{xy}$ (nA/K)', fontsize=8, labelpad=2)
letter(496, 202, 'i')

fig.savefig('out.png', dpi=100)
